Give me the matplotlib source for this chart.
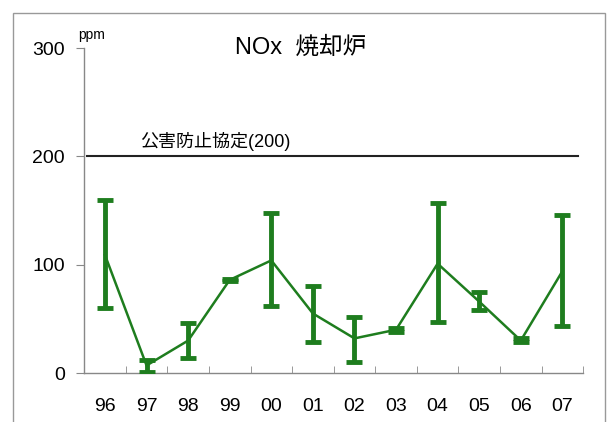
import numpy as np
import matplotlib
matplotlib.use("Agg")
import matplotlib.pyplot as plt
from matplotlib.patches import Rectangle

plt.rcParams['font.family'] = ['Liberation Sans', 'Noto Sans CJK JP', 'DejaVu Sans']

# data
years = ['96', '97', '98', '99', '00', '01', '02', '03', '04', '05', '06', '07']
nox_mean = [109, 7, 30, 86, 104, 55, 32, 40, 101, 66, 30, 94]
nox_max = [160, 12, 46, 87, 148, 80, 52, 42, 157, 75, 32, 146]
nox_min = [60, 1, 14, 85, 62, 29, 10, 38, 47, 58, 29, 43]
limit = 200
limit_label = '公害防止協定(200)'
yticks = [0, 100, 200, 300]

green = '#1e7d1e'

fig = plt.figure(figsize=(6.1, 4.22), dpi=100)
ax = fig.add_axes([0.138, 0.116, 0.818, 0.77])

x = np.arange(len(years))
mean = np.array(nox_mean)
err = [mean - np.array(nox_min), np.array(nox_max) - mean]

ax.plot(x, mean, color=green, lw=1.8, zorder=3)
ax.errorbar(x, mean, yerr=err, fmt='none', ecolor=green, elinewidth=3.5,
            capsize=6, capthick=3.5, zorder=3)

# limit line
ax.axhline(limit, xmin=0.005, xmax=0.99, color='#222222', lw=1.5)
ax.text(0.85, limit + 5, limit_label, fontsize=13, ha='left', va='bottom')

ax.set_xlim(-0.5, len(years) - 0.5)
ax.set_ylim(0, 300)
ax.set_yticks(yticks)
ax.set_yticklabels([str(t) for t in yticks], fontsize=14)
ax.tick_params(axis='y', direction='out', length=6, color='#888888', pad=8)

ax.set_xticks(x)
ax.set_xticklabels(years, fontsize=14)
ax.tick_params(axis='x', length=0, pad=18)
ax.set_xticks(np.arange(len(years) + 1) - 0.5, minor=True)
ax.tick_params(axis='x', which='minor', direction='in', length=5, color='#888888')

for s in ['top', 'right']:
    ax.spines[s].set_visible(False)
for s in ['left', 'bottom']:
    ax.spines[s].set_color('#888888')
    ax.spines[s].set_linewidth(1.0)

fig.text(0.493, 0.888, 'NOx  焼却炉', fontsize=17, ha='center', va='center')
fig.text(0.128, 0.918, 'ppm', fontsize=10, ha='left', va='center')

# outer frame of the scanned figure
fig.patches.append(Rectangle((0.021, -0.01), 0.97, 0.98, transform=fig.transFigure,
                             fill=False, edgecolor='#999999', lw=1.0))

fig.savefig('out.png', dpi=100)
